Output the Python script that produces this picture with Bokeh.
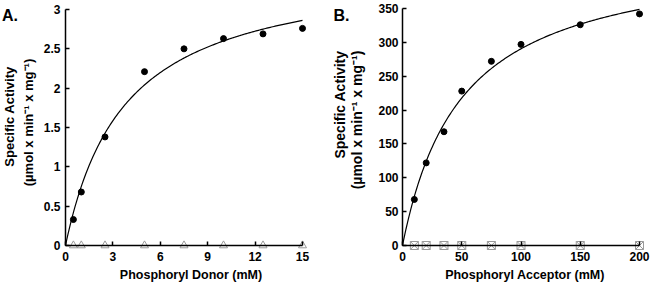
import math
import numpy as np
from bokeh.plotting import figure
from bokeh.layouts import row
from bokeh.models import Range1d, FixedTicker, Label
from bokeh.embed import file_html
from bokeh.resources import INLINE

# ---- Panel A data: phosphoryl donor ----
donor_mM = [0.5, 1, 2.5, 5, 7.5, 10, 12.5, 15]
donor_activity = [0.33, 0.68, 1.38, 2.21, 2.50, 2.63, 2.69, 2.76]
donor_control = [0, 0, 0, 0, 0, 0, 0, 0]
donor_vmax = 3.58   # Michaelis-Menten fit
donor_km = 3.77
a_xticks = [0, 3, 6, 9, 12, 15]
a_yticks = [0, 0.5, 1, 1.5, 2, 2.5, 3]
a_ylabels = ["0", "0.5", "1", "1.5", "2", "2.5", "3"]

# ---- Panel B data: phosphoryl acceptor ----
acceptor_mM = [10, 20, 35, 50, 75, 100, 150, 200]
acceptor_activity = [68, 122, 168, 228, 272, 297, 326, 342]
acceptor_control = [0, 0, 0, 0, 0, 0, 0, 0]
acceptor_vmax = 436
acceptor_km = 50.1
b_xticks = [0, 50, 100, 150, 200]
b_yticks = [0, 50, 100, 150, 200, 250, 300, 350]
b_ylabels = ["0", "50", "100", "150", "200", "250", "300", "350"]

FONT = "Liberation Sans"
W, H = 325, 283
YTITLE1 = "Specific Activity"
YTITLE2 = "(\u00b5mol x min\u207b\u00b9 x mg\u207b\u00b9)"


def panel(xs, ys, ctrl, vmax, km, xmax, ymax, xticks, yticks, ylabels,
          xtitle, letter, ctrl_marker, px0, px1, py0, py1, ytsize,
          ylab_standoff, letter_px, xt_px, yt1_px, yt2_px):
    # pixel anchors: data 0 -> px0, xmax -> px1 ; data 0 -> py0, ymax -> py1
    sx = (px1 - px0) / xmax
    sy = (py0 - py1) / ymax
    xr = Range1d(-px0 / sx, (W - px0) / sx)
    yr = Range1d(-(H - py0) / sy, ymax + py1 / sy)
    dx = lambda px: (px - px0) / sx
    dy = lambda py: (py0 - py) / sy

    p = figure(output_backend="svg", toolbar_location=None, width=W, height=H,
               min_border=0, x_range=xr, y_range=yr)
    p.outline_line_color = None
    p.grid.visible = False
    p.background_fill_color = "white"
    p.border_fill_color = "white"

    for ax in (p.xaxis[0], p.yaxis[0]):
        ax.fixed_location = 0
        ax.axis_line_width = 1.5
        ax.axis_line_color = "black"
        ax.major_tick_in = 4
        ax.major_tick_out = 0
        ax.major_tick_line_width = 1.5
        ax.minor_tick_line_color = None
        ax.major_label_text_font = FONT
        ax.major_label_text_font_style = "bold"
        ax.major_label_text_font_size = "12px"
        ax.major_label_text_color = "black"

    xa = p.xaxis[0]
    xa.ticker = FixedTicker(ticks=xticks)
    xa.bounds = (0, xmax)
    xa.major_label_standoff = 6

    ya = p.yaxis[0]
    ya.ticker = FixedTicker(ticks=yticks)
    ya.major_label_overrides = {t: l for t, l in zip(yticks, ylabels)}
    ya.bounds = (0, ymax)
    ya.major_label_standoff = ylab_standoff

    cx = np.linspace(0, xmax, 200)
    p.line(cx, vmax * cx / (km + cx), line_color="black", line_width=1.2)
    p.scatter(xs, ctrl, marker=ctrl_marker, size=8, fill_color=None,
              line_color="#9a9a9a", line_width=1)
    p.scatter(xs, ys, marker="circle", size=6, fill_color="black",
              line_color="black")

    bold = dict(text_font=FONT, text_font_style="bold", text_color="black")
    p.add_layout(Label(x=dx(letter_px[0]), y=dy(letter_px[1]), text=letter,
                       text_font_size="16px", text_baseline="alphabetic",
                       text_align="left", **bold))
    p.add_layout(Label(x=dx(xt_px[0]), y=dy(xt_px[1]), text=xtitle,
                       text_font_size="12.5px", text_baseline="alphabetic",
                       text_align="center", **bold))
    for txt, pos in ((YTITLE1, yt1_px), (YTITLE2, yt2_px)):
        p.add_layout(Label(x=dx(pos[0]), y=dy(pos[1]), text=txt,
                           angle=math.pi / 2, text_font_size=ytsize,
                           text_baseline="middle", text_align="center",
                           **bold))
    return p


pa = panel(donor_mM, donor_activity, donor_control, donor_vmax, donor_km,
           15, 3, a_xticks, a_yticks, a_ylabels, "Phosphoryl Donor (mM)",
           "A.", "triangle", 65, 302, 245, 9, "13px", 5,
           (1.5, 15), (190.5, 274), (9, 116), (27.5, 122))
pb = panel(acceptor_mM, acceptor_activity, acceptor_control, acceptor_vmax,
           acceptor_km, 200, 350, b_xticks, b_yticks, b_ylabels,
           "Phosphoryl Acceptor (mM)", "B.", "square_x", 77, 314, 245, 8,
           "14px", 4, (8, 15), (199.5, 274), (14, 104), (31.5, 119.5))

layout = row(pa, pb)
open("out.html", "w").write(file_html(layout, INLINE))
